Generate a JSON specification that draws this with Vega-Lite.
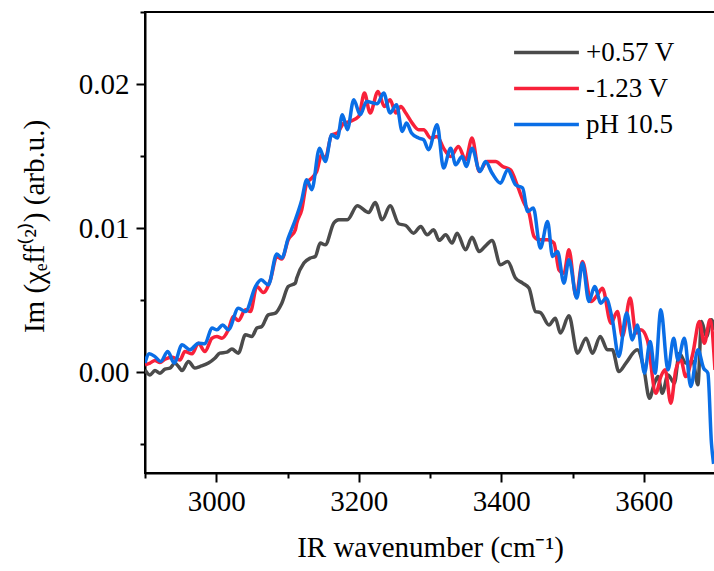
{
"$schema": "https://vega.github.io/schema/vega-lite/v6.json",
"width": 570, "height": 461,
"autosize": {"type": "none"},
"padding": {"left": 145, "top": 12, "right": 0, "bottom": 98},
"background": "white",
"view": {"stroke": "black", "strokeWidth": 2},
"config": {"font": "Liberation Serif"},
"data": {"values": [
{"s":"+0.57 V","x":2900,"y":0.00016},{"s":"+0.57 V","x":2907,"y":-0.00019},{"s":"+0.57 V","x":2914,"y":0.00011},{"s":"+0.57 V","x":2921,"y":-0.00007},{"s":"+0.57 V","x":2928,"y":0.00021},{"s":"+0.57 V","x":2935,"y":0.00028},{"s":"+0.57 V","x":2942,"y":0.00063},{"s":"+0.57 V","x":2947,"y":0.00039},{"s":"+0.57 V","x":2952,"y":0.00011},{"s":"+0.57 V","x":2961,"y":0.00074},{"s":"+0.57 V","x":2970,"y":0.00028},{"s":"+0.57 V","x":2977,"y":0.00039},{"s":"+0.57 V","x":2989,"y":0.00063},{"s":"+0.57 V","x":2998,"y":0.00097},{"s":"+0.57 V","x":3005,"y":0.00132},{"s":"+0.57 V","x":3015,"y":0.00139},{"s":"+0.57 V","x":3022,"y":0.0016},{"s":"+0.57 V","x":3031,"y":0.00132},{"s":"+0.57 V","x":3041,"y":0.00259},{"s":"+0.57 V","x":3050,"y":0.00247},{"s":"+0.57 V","x":3057,"y":0.00306},{"s":"+0.57 V","x":3064,"y":0.00317},{"s":"+0.57 V","x":3073,"y":0.00398},{"s":"+0.57 V","x":3083,"y":0.0041},{"s":"+0.57 V","x":3092,"y":0.00479},{"s":"+0.57 V","x":3101,"y":0.00594},{"s":"+0.57 V","x":3111,"y":0.00618},{"s":"+0.57 V","x":3113,"y":0.00653},{"s":"+0.57 V","x":3123,"y":0.00757},{"s":"+0.57 V","x":3132,"y":0.00792},{"s":"+0.57 V","x":3139,"y":0.00803},{"s":"+0.57 V","x":3146,"y":0.00896},{"s":"+0.57 V","x":3153,"y":0.00884},{"s":"+0.57 V","x":3165,"y":0.01035},{"s":"+0.57 V","x":3172,"y":0.01058},{"s":"+0.57 V","x":3184,"y":0.01058},{"s":"+0.57 V","x":3198,"y":0.01155},{"s":"+0.57 V","x":3214,"y":0.01108},{"s":"+0.57 V","x":3223,"y":0.01178},{"s":"+0.57 V","x":3233,"y":0.01058},{"s":"+0.57 V","x":3244,"y":0.01155},{"s":"+0.57 V","x":3256,"y":0.0103},{"s":"+0.57 V","x":3266,"y":0.01018},{"s":"+0.57 V","x":3277,"y":0.00965},{"s":"+0.57 V","x":3287,"y":0.01011},{"s":"+0.57 V","x":3296,"y":0.00953},{"s":"+0.57 V","x":3305,"y":0.00988},{"s":"+0.57 V","x":3313,"y":0.00915},{"s":"+0.57 V","x":3322,"y":0.00953},{"s":"+0.57 V","x":3331,"y":0.00896},{"s":"+0.57 V","x":3338,"y":0.00965},{"s":"+0.57 V","x":3350,"y":0.00849},{"s":"+0.57 V","x":3359,"y":0.00937},{"s":"+0.57 V","x":3369,"y":0.00837},{"s":"+0.57 V","x":3378,"y":0.00877},{"s":"+0.57 V","x":3387,"y":0.00914},{"s":"+0.57 V","x":3399,"y":0.00745},{"s":"+0.57 V","x":3409,"y":0.00768},{"s":"+0.57 V","x":3420,"y":0.00653},{"s":"+0.57 V","x":3430,"y":0.00618},{"s":"+0.57 V","x":3439,"y":0.00583},{"s":"+0.57 V","x":3448,"y":0.00421},{"s":"+0.57 V","x":3455,"y":0.00414},{"s":"+0.57 V","x":3467,"y":0.00328},{"s":"+0.57 V","x":3476,"y":0.00375},{"s":"+0.57 V","x":3483,"y":0.00271},{"s":"+0.57 V","x":3495,"y":0.00391},{"s":"+0.57 V","x":3507,"y":0.00132},{"s":"+0.57 V","x":3519,"y":0.00236},{"s":"+0.57 V","x":3528,"y":0.00132},{"s":"+0.57 V","x":3539,"y":0.00247},{"s":"+0.57 V","x":3549,"y":0.00155},{"s":"+0.57 V","x":3556,"y":0.00155},{"s":"+0.57 V","x":3565,"y":0.00004},{"s":"+0.57 V","x":3575,"y":0.00063},{"s":"+0.57 V","x":3591,"y":0.00155},{"s":"+0.57 V","x":3600,"y":0.00028},{"s":"+0.57 V","x":3608,"y":-0.00181},{"s":"+0.57 V","x":3615,"y":-0.00076},{"s":"+0.57 V","x":3620,"y":-0.00031},{"s":"+0.57 V","x":3626,"y":-0.00146},{"s":"+0.57 V","x":3634,"y":-0.00019},{"s":"+0.57 V","x":3643,"y":-0.00076},{"s":"+0.57 V","x":3650,"y":0.00132},{"s":"+0.57 V","x":3659,"y":0.00063},{"s":"+0.57 V","x":3669,"y":0.00074},{"s":"+0.57 V","x":3676,"y":-0.00088},{"s":"+0.57 V","x":3681,"y":0.00351},{"s":"+0.57 V","x":3688,"y":0.00247},{"s":"+0.57 V","x":3695,"y":0.00363},{"s":"+0.57 V","x":3700,"y":0.00294},
{"s":"-1.23 V","x":2900,"y":0.00051},{"s":"-1.23 V","x":2907,"y":0.00063},{"s":"-1.23 V","x":2914,"y":0.00081},{"s":"-1.23 V","x":2921,"y":0.00067},{"s":"-1.23 V","x":2928,"y":0.0009},{"s":"-1.23 V","x":2938,"y":0.00104},{"s":"-1.23 V","x":2945,"y":0.0009},{"s":"-1.23 V","x":2949,"y":0.00085},{"s":"-1.23 V","x":2956,"y":0.00143},{"s":"-1.23 V","x":2966,"y":0.00127},{"s":"-1.23 V","x":2975,"y":0.00201},{"s":"-1.23 V","x":2984,"y":0.00143},{"s":"-1.23 V","x":2994,"y":0.00236},{"s":"-1.23 V","x":3001,"y":0.00247},{"s":"-1.23 V","x":3008,"y":0.00236},{"s":"-1.23 V","x":3017,"y":0.00294},{"s":"-1.23 V","x":3024,"y":0.00386},{"s":"-1.23 V","x":3031,"y":0.00358},{"s":"-1.23 V","x":3041,"y":0.00433},{"s":"-1.23 V","x":3048,"y":0.00421},{"s":"-1.23 V","x":3057,"y":0.00594},{"s":"-1.23 V","x":3066,"y":0.00553},{"s":"-1.23 V","x":3076,"y":0.00641},{"s":"-1.23 V","x":3085,"y":0.00803},{"s":"-1.23 V","x":3092,"y":0.00785},{"s":"-1.23 V","x":3101,"y":0.00919},{"s":"-1.23 V","x":3111,"y":0.00988},{"s":"-1.23 V","x":3113,"y":0.01035},{"s":"-1.23 V","x":3120,"y":0.01127},{"s":"-1.23 V","x":3127,"y":0.01312},{"s":"-1.23 V","x":3134,"y":0.01347},{"s":"-1.23 V","x":3141,"y":0.01393},{"s":"-1.23 V","x":3148,"y":0.01509},{"s":"-1.23 V","x":3153,"y":0.01486},{"s":"-1.23 V","x":3162,"y":0.01648},{"s":"-1.23 V","x":3170,"y":0.0166},{"s":"-1.23 V","x":3179,"y":0.01729},{"s":"-1.23 V","x":3188,"y":0.0174},{"s":"-1.23 V","x":3200,"y":0.01775},{"s":"-1.23 V","x":3208,"y":0.01937},{"s":"-1.23 V","x":3216,"y":0.01799},{"s":"-1.23 V","x":3227,"y":0.01949},{"s":"-1.23 V","x":3236,"y":0.01844},{"s":"-1.23 V","x":3244,"y":0.01891},{"s":"-1.23 V","x":3252,"y":0.01799},{"s":"-1.23 V","x":3259,"y":0.01844},{"s":"-1.23 V","x":3266,"y":0.01799},{"s":"-1.23 V","x":3275,"y":0.01729},{"s":"-1.23 V","x":3284,"y":0.01683},{"s":"-1.23 V","x":3291,"y":0.01683},{"s":"-1.23 V","x":3301,"y":0.01625},{"s":"-1.23 V","x":3310,"y":0.01636},{"s":"-1.23 V","x":3319,"y":0.01555},{"s":"-1.23 V","x":3329,"y":0.01497},{"s":"-1.23 V","x":3340,"y":0.01567},{"s":"-1.23 V","x":3350,"y":0.01474},{"s":"-1.23 V","x":3359,"y":0.01625},{"s":"-1.23 V","x":3369,"y":0.01393},{"s":"-1.23 V","x":3380,"y":0.01462},{"s":"-1.23 V","x":3392,"y":0.01462},{"s":"-1.23 V","x":3402,"y":0.01428},{"s":"-1.23 V","x":3413,"y":0.01405},{"s":"-1.23 V","x":3423,"y":0.01289},{"s":"-1.23 V","x":3432,"y":0.01174},{"s":"-1.23 V","x":3439,"y":0.01104},{"s":"-1.23 V","x":3446,"y":0.00942},{"s":"-1.23 V","x":3453,"y":0.00919},{"s":"-1.23 V","x":3465,"y":0.00919},{"s":"-1.23 V","x":3474,"y":0.00896},{"s":"-1.23 V","x":3481,"y":0.0071},{"s":"-1.23 V","x":3488,"y":0.00687},{"s":"-1.23 V","x":3495,"y":0.00849},{"s":"-1.23 V","x":3505,"y":0.00525},{"s":"-1.23 V","x":3514,"y":0.00768},{"s":"-1.23 V","x":3526,"y":0.0049},{"s":"-1.23 V","x":3535,"y":0.00537},{"s":"-1.23 V","x":3542,"y":0.00583},{"s":"-1.23 V","x":3554,"y":0.0034},{"s":"-1.23 V","x":3563,"y":0.00421},{"s":"-1.23 V","x":3570,"y":0.00247},{"s":"-1.23 V","x":3581,"y":0.00514},{"s":"-1.23 V","x":3589,"y":0.00271},{"s":"-1.23 V","x":3596,"y":0.00294},{"s":"-1.23 V","x":3605,"y":0.00224},{"s":"-1.23 V","x":3617,"y":-0.00146},{"s":"-1.23 V","x":3624,"y":-0.00031},{"s":"-1.23 V","x":3630,"y":0.00016},{"s":"-1.23 V","x":3638,"y":-0.00215},{"s":"-1.23 V","x":3645,"y":0.00016},{"s":"-1.23 V","x":3652,"y":0.00085},{"s":"-1.23 V","x":3659,"y":-0.00031},{"s":"-1.23 V","x":3669,"y":0.00132},{"s":"-1.23 V","x":3678,"y":0.00351},{"s":"-1.23 V","x":3685,"y":0.00201},{"s":"-1.23 V","x":3693,"y":0.00363},{"s":"-1.23 V","x":3700,"y":0.00016},
{"s":"pH 10.5","x":2900,"y":0.00063},{"s":"pH 10.5","x":2906,"y":0.00127},{"s":"pH 10.5","x":2914,"y":0.00108},{"s":"pH 10.5","x":2922,"y":0.00074},{"s":"pH 10.5","x":2932,"y":0.00143},{"s":"pH 10.5","x":2941,"y":0.00063},{"s":"pH 10.5","x":2952,"y":0.0019},{"s":"pH 10.5","x":2963,"y":0.00155},{"s":"pH 10.5","x":2975,"y":0.00201},{"s":"pH 10.5","x":2984,"y":0.00197},{"s":"pH 10.5","x":2994,"y":0.00306},{"s":"pH 10.5","x":3001,"y":0.00294},{"s":"pH 10.5","x":3009,"y":0.00328},{"s":"pH 10.5","x":3017,"y":0.00294},{"s":"pH 10.5","x":3031,"y":0.00444},{"s":"pH 10.5","x":3041,"y":0.00421},{"s":"pH 10.5","x":3055,"y":0.00594},{"s":"pH 10.5","x":3063,"y":0.00641},{"s":"pH 10.5","x":3073,"y":0.00606},{"s":"pH 10.5","x":3085,"y":0.00821},{"s":"pH 10.5","x":3092,"y":0.00792},{"s":"pH 10.5","x":3101,"y":0.00931},{"s":"pH 10.5","x":3111,"y":0.01058},{"s":"pH 10.5","x":3120,"y":0.01196},{"s":"pH 10.5","x":3127,"y":0.01335},{"s":"pH 10.5","x":3134,"y":0.01266},{"s":"pH 10.5","x":3145,"y":0.01555},{"s":"pH 10.5","x":3153,"y":0.01462},{"s":"pH 10.5","x":3162,"y":0.01648},{"s":"pH 10.5","x":3170,"y":0.01625},{"s":"pH 10.5","x":3177,"y":0.01787},{"s":"pH 10.5","x":3184,"y":0.01683},{"s":"pH 10.5","x":3193,"y":0.01891},{"s":"pH 10.5","x":3202,"y":0.01787},{"s":"pH 10.5","x":3211,"y":0.01879},{"s":"pH 10.5","x":3226,"y":0.01863},{"s":"pH 10.5","x":3235,"y":0.01937},{"s":"pH 10.5","x":3244,"y":0.01799},{"s":"pH 10.5","x":3253,"y":0.01856},{"s":"pH 10.5","x":3261,"y":0.01671},{"s":"pH 10.5","x":3267,"y":0.01729},{"s":"pH 10.5","x":3274,"y":0.0166},{"s":"pH 10.5","x":3284,"y":0.01625},{"s":"pH 10.5","x":3291,"y":0.01613},{"s":"pH 10.5","x":3298,"y":0.01544},{"s":"pH 10.5","x":3310,"y":0.01717},{"s":"pH 10.5","x":3319,"y":0.01417},{"s":"pH 10.5","x":3329,"y":0.01555},{"s":"pH 10.5","x":3336,"y":0.0144},{"s":"pH 10.5","x":3345,"y":0.01497},{"s":"pH 10.5","x":3351,"y":0.01428},{"s":"pH 10.5","x":3359,"y":0.01555},{"s":"pH 10.5","x":3370,"y":0.01393},{"s":"pH 10.5","x":3378,"y":0.01462},{"s":"pH 10.5","x":3387,"y":0.01382},{"s":"pH 10.5","x":3399,"y":0.01312},{"s":"pH 10.5","x":3409,"y":0.01405},{"s":"pH 10.5","x":3420,"y":0.01301},{"s":"pH 10.5","x":3430,"y":0.01278},{"s":"pH 10.5","x":3437,"y":0.01115},{"s":"pH 10.5","x":3445,"y":0.01139},{"s":"pH 10.5","x":3455,"y":0.00861},{"s":"pH 10.5","x":3465,"y":0.01046},{"s":"pH 10.5","x":3472,"y":0.00803},{"s":"pH 10.5","x":3479,"y":0.00837},{"s":"pH 10.5","x":3488,"y":0.00618},{"s":"pH 10.5","x":3495,"y":0.0078},{"s":"pH 10.5","x":3506,"y":0.00514},{"s":"pH 10.5","x":3514,"y":0.00757},{"s":"pH 10.5","x":3523,"y":0.0049},{"s":"pH 10.5","x":3531,"y":0.00594},{"s":"pH 10.5","x":3540,"y":0.00479},{"s":"pH 10.5","x":3547,"y":0.00514},{"s":"pH 10.5","x":3556,"y":0.00363},{"s":"pH 10.5","x":3565,"y":0.00108},{"s":"pH 10.5","x":3576,"y":0.0041},{"s":"pH 10.5","x":3584,"y":0.00224},{"s":"pH 10.5","x":3591,"y":0.00328},{"s":"pH 10.5","x":3601,"y":-0.00007},{"s":"pH 10.5","x":3609,"y":0.00212},{"s":"pH 10.5","x":3616,"y":-0.00007},{"s":"pH 10.5","x":3624,"y":0.00433},{"s":"pH 10.5","x":3634,"y":0.00016},{"s":"pH 10.5","x":3642,"y":0.00236},{"s":"pH 10.5","x":3648,"y":0.00085},{"s":"pH 10.5","x":3657,"y":0.00236},{"s":"pH 10.5","x":3666,"y":-0.001},{"s":"pH 10.5","x":3676,"y":0.00155},{"s":"pH 10.5","x":3684,"y":0.00028},{"s":"pH 10.5","x":3690,"y":-0.00007},{"s":"pH 10.5","x":3695,"y":-0.00493},{"s":"pH 10.5","x":3698,"y":-0.00637}
]},
"mark": {"type": "line", "strokeWidth": 3.5, "interpolate": "monotone", "clip": true},
"encoding": {
"x": {"field": "x", "type": "quantitative",
 "scale": {"domain": [2900, 3700], "nice": false, "zero": false},
 "axis": {"title": "IR wavenumber (cm⁻¹)", "values": [2900, 3000, 3100, 3200, 3300, 3400, 3500, 3600, 3700],
  "labelExpr": "datum.value % 200 == 0 ? datum.label : ''",
  "tickSize": {"condition": {"test": "datum.value % 200 == 0", "value": 9}, "value": 5},
  "grid": false, "domainColor": "black", "domainWidth": 2, "tickColor": "black", "tickWidth": 2,
  "labelFontSize": 29, "labelColor": "black", "labelPadding": 5, "labelFlush": false, "format": "d",
  "titleFontSize": 29, "titleFontWeight": "normal", "titleColor": "black", "titlePadding": 17}},
"y": {"field": "y", "type": "quantitative",
 "scale": {"domain": [-0.007, 0.025], "nice": false, "zero": false},
 "axis": {"title": "Im (χₑff⁽²⁾) (arb.u.)", "values": [-0.005, 0, 0.005, 0.01, 0.015, 0.02, 0.025],
  "labelExpr": "abs(datum.value*100 - round(datum.value*100)) < 0.000001 ? format(datum.value, '.2f') : ''",
  "tickSize": {"condition": {"test": "abs(datum.value*100 - round(datum.value*100)) < 0.000001", "value": 9}, "value": 5},
  "grid": false, "domainColor": "black", "domainWidth": 2, "tickColor": "black", "tickWidth": 2,
  "labelFontSize": 29, "labelColor": "black", "labelPadding": 7,
  "titleFontSize": 29, "titleFontWeight": "normal", "titleColor": "black", "titlePadding": 29, "titleY": 214}},
"color": {"field": "s", "type": "nominal",
 "scale": {"domain": ["+0.57 V", "-1.23 V", "pH 10.5"], "range": ["#4b4b4b", "#f8213a", "#0a6ee6"]},
 "legend": {"title": null, "orient": "none", "legendX": 367, "legendY": 27, "symbolType": "stroke",
  "symbolSize": 4200, "symbolStrokeWidth": 3.5, "labelFontSize": 27, "labelFont": "Liberation Serif",
  "labelColor": "black", "labelOffset": 5, "rowPadding": 8, "clipHeight": 27, "padding": 0, "labelLimit": 300}}
}
}
